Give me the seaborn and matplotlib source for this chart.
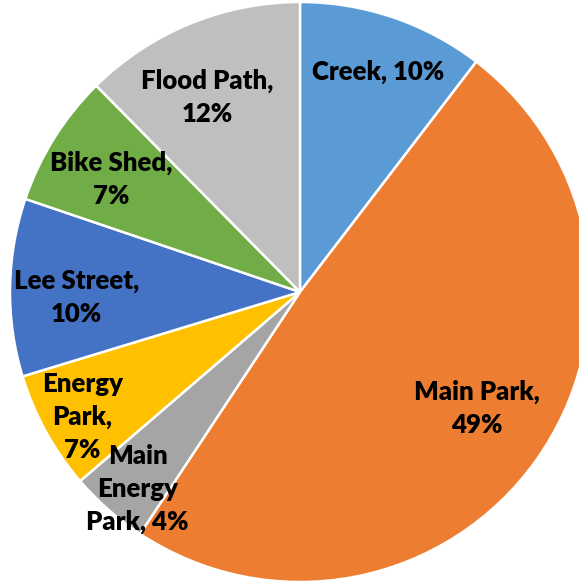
import matplotlib
matplotlib.use("Agg")
import matplotlib.pyplot as plt
import seaborn as sns

# data (clockwise from 12 o'clock)
categories = ["Creek", "Main Park", "Main\nEnergy\nPark", "Energy\nPark",
              "Lee Street", "Bike Shed", "Flood Path"]
shares = [10.4, 48.9, 4.4, 6.6, 9.9, 7.4, 12.4]
colors = ["#5B9BD5", "#ED7D31", "#A5A5A5", "#FFC000", "#4472C4", "#70AD47", "#BFBFBF"]

# label layout (radius units) and how each label breaks its lines
label_pos = [(0.27, 0.76), (0.61, -0.40), (-0.56, -0.68), (-0.75, -0.43),
             (-0.77, -0.02), (-0.65, 0.39), (-0.32, 0.67)]
label_sep = [" ", "\n", " ", "\n", "\n", "\n", "\n"]

sns.set_theme(style="white")
plt.rcParams['font.family'] = ['Lato', 'DejaVu Sans']

W, H, DPI = 579, 584, 100
fig = plt.figure(figsize=(W / DPI, H / DPI), dpi=DPI)
R = 290
cx, cy = 300, 292
ax = fig.add_axes([(cx - R) / W, (H - cy - R) / H, 2 * R / W, 2 * R / H])

ax.pie(shares, colors=sns.color_palette(colors), startangle=90, counterclock=False,
       radius=1, wedgeprops=dict(edgecolor="white", linewidth=1.8))
ax.set_xlim(-1, 1)
ax.set_ylim(-1, 1)
ax.axis("off")

for name, val, (x, y), sep in zip(categories, shares, label_pos, label_sep):
    ax.text(x, y, f"{name},{sep}{round(val):.0f}%", ha="center", va="center",
            multialignment="center", fontsize=18.5, fontweight="heavy",
            color="black", linespacing=1.45)

fig.savefig("out.png", dpi=DPI)
